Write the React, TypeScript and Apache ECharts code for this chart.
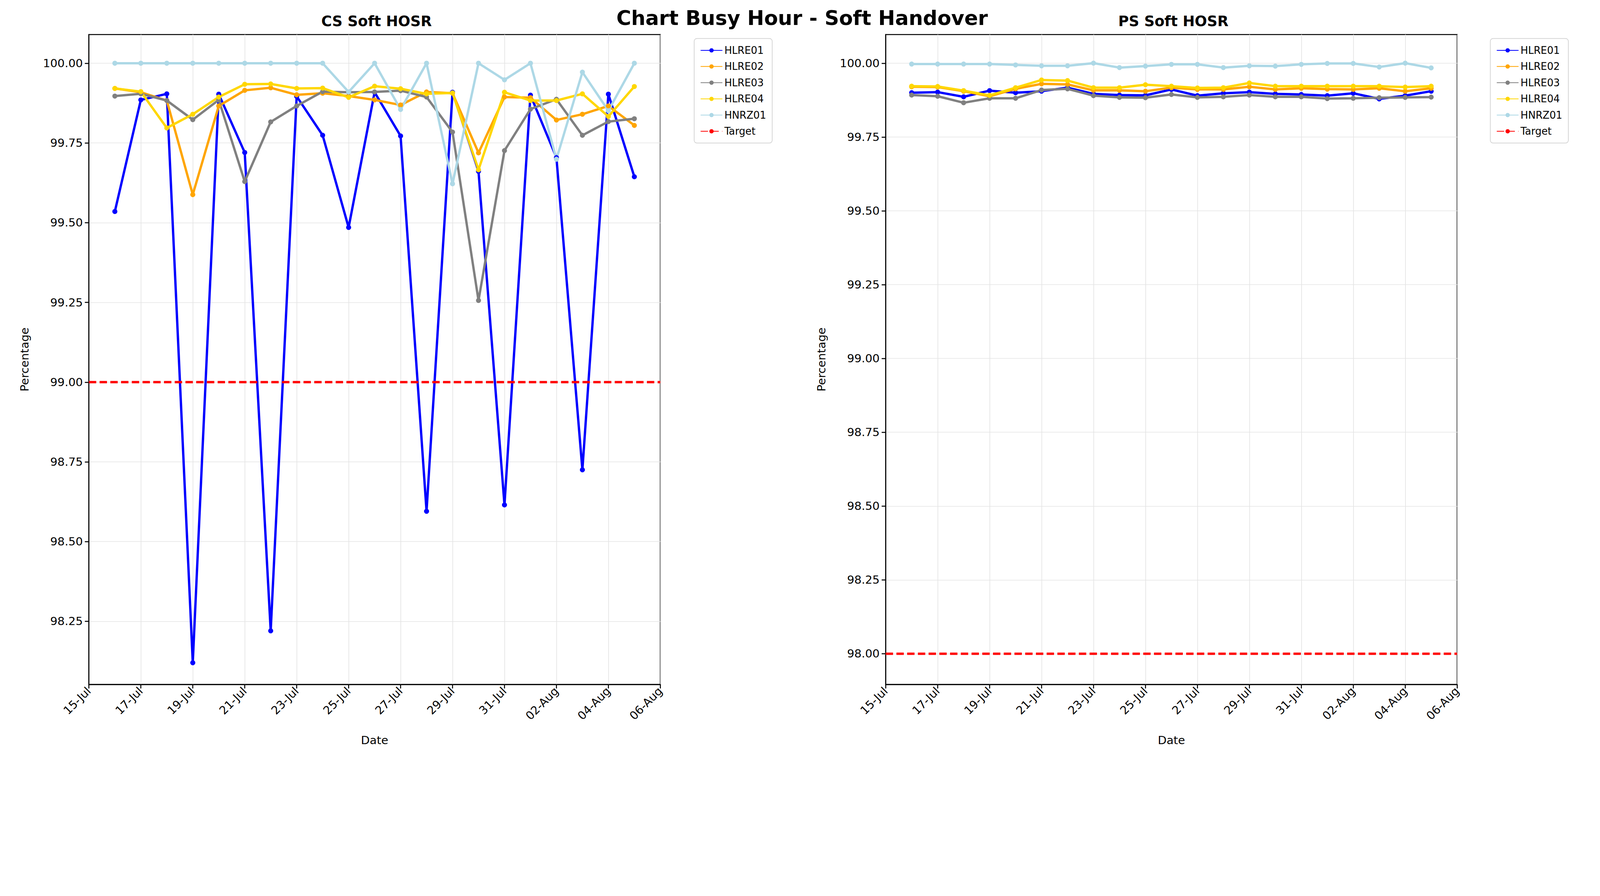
import { useEffect, useRef } from "react";
import * as echarts from "echarts";

// day index: 0 = 15-Jul, data from 16-Jul (1) to 05-Aug (21)
const days = Array.from({ length: 21 }, (_, i) => i + 1);
const names = ["HLRE01", "HLRE02", "HLRE03", "HLRE04", "HNRZ01"];
const colors = ["#0000ff", "#ffa500", "#808080", "#ffd700", "#add8e6"];

const csHLRE01 = [99.535, 99.885, 99.904, 98.12, 99.903, 99.72, 98.22, 99.896, 99.774, 99.485, 99.909, 99.772, 98.595, 99.909, 99.661, 98.615, 99.9, 99.704, 98.725, 99.903, 99.644];
const csHLRE02 = [99.921, 99.909, 99.883, 99.588, 99.866, 99.915, 99.923, 99.901, 99.906, 99.897, 99.885, 99.869, 99.91, 99.906, 99.719, 99.894, 99.892, 99.822, 99.84, 99.866, 99.805];
const csHLRE03 = [99.897, 99.904, 99.883, 99.823, 99.885, 99.629, 99.816, 99.866, 99.911, 99.909, 99.91, 99.914, 99.894, 99.784, 99.256, 99.726, 99.856, 99.887, 99.774, 99.817, 99.826];
const csHLRE04 = [99.921, 99.911, 99.797, 99.84, 99.894, 99.934, 99.935, 99.921, 99.922, 99.893, 99.928, 99.92, 99.904, 99.907, 99.666, 99.909, 99.883, 99.883, 99.904, 99.833, 99.927];
const csHNRZ01 = [100, 100, 100, 100, 100, 100, 100, 100, 100, 99.91, 100, 99.855, 100, 99.622, 100, 99.948, 100, 99.699, 99.972, 99.851, 100];

const psHLRE01 = [99.9, 99.902, 99.886, 99.907, 99.9, 99.905, 99.917, 99.896, 99.892, 99.891, 99.911, 99.89, 99.898, 99.902, 99.896, 99.894, 99.89, 99.898, 99.879, 99.89, 99.905];
const psHLRE02 = [99.92, 99.919, 99.905, 99.888, 99.913, 99.93, 99.928, 99.908, 99.908, 99.905, 99.917, 99.911, 99.911, 99.92, 99.911, 99.915, 99.912, 99.911, 99.915, 99.905, 99.915];
const psHLRE03 = [99.892, 99.888, 99.866, 99.881, 99.881, 99.909, 99.913, 99.89, 99.884, 99.883, 99.894, 99.884, 99.886, 99.892, 99.886, 99.886, 99.88, 99.881, 99.883, 99.884, 99.885];
const psHLRE04 = [99.922, 99.921, 99.907, 99.891, 99.917, 99.943, 99.941, 99.917, 99.917, 99.927, 99.922, 99.916, 99.917, 99.933, 99.922, 99.922, 99.922, 99.922, 99.922, 99.919, 99.922];
const psHNRZ01 = [99.997, 99.997, 99.997, 99.997, 99.994, 99.991, 99.991, 100, 99.985, 99.99, 99.996, 99.996, 99.985, 99.991, 99.99, 99.996, 99.999, 99.999, 99.987, 100, 99.984];

const csTarget = 99.0;
const psTarget = 98.0;
const csTicks = [98.25, 98.5, 98.75, 99.0, 99.25, 99.5, 99.75, 100.0];
const psTicks = [98.0, 98.25, 98.5, 98.75, 99.0, 99.25, 99.5, 99.75, 100.0];

const font = "DejaVu Sans";

function dayLabel(d: number) {
  const day = 15 + d;
  if (day <= 31) return `${String(day).padStart(2, "0")}-Jul`;
  return `${String(day - 31).padStart(2, "0")}-Aug`;
}

export default function App() {
  const ref = useRef<HTMLDivElement>(null);

  useEffect(() => {
    if (!ref.current) return;
    document.body.style.margin = "0";
    const W = window.innerWidth;
    const H = window.innerHeight;
    ref.current.style.width = W + "px";
    ref.current.style.height = H + "px";
    const s = W / 4771; // sizes below are in reference pixels
    const p = (v: number) => v * s;
    const chart = echarts.init(ref.current, null, { renderer: "svg" });

    const mkX = (gridIndex: number) => ({
      type: "value",
      gridIndex,
      min: 0,
      max: 22,
      interval: 2,
      name: "Date",
      nameLocation: "middle",
      nameGap: p(150),
      nameTextStyle: { fontFamily: font, fontSize: p(34), color: "#000" },
      axisLine: { onZero: false, lineStyle: { color: "#000", width: p(3) } },
      axisTick: { length: p(12), lineStyle: { color: "#000", width: p(3) } },
      axisLabel: { rotate: 45, fontFamily: font, fontSize: p(34), color: "#000", margin: p(14), formatter: (v: number) => dayLabel(v) },
      splitLine: { show: true, lineStyle: { color: "#e5e5e5", width: p(2) } },
    });
    const mkY = (gridIndex: number, min: number, max: number, ticks: number[]) => ({
      type: "value",
      gridIndex,
      min,
      max,
      name: "Percentage",
      nameLocation: "middle",
      nameGap: p(175),
      nameTextStyle: { fontFamily: font, fontSize: p(34), color: "#000" },
      axisLine: { show: true, lineStyle: { color: "#000", width: p(3) } },
      axisTick: { length: p(12), customValues: ticks, lineStyle: { color: "#000", width: p(3) } },
      axisLabel: { fontFamily: font, fontSize: p(34), color: "#000", margin: p(18), customValues: ticks, formatter: (v: number) => v.toFixed(2) },
      splitLine: { show: true, lineStyle: { color: "#e5e5e5", width: p(2) } },
    });

    const csData = [csHLRE01, csHLRE02, csHLRE03, csHLRE04, csHNRZ01];
    const psData = [psHLRE01, psHLRE02, psHLRE03, psHLRE04, psHNRZ01];
    const series: any[] = [];
    [csData, psData].forEach((set, g) => {
      set.forEach((vals, i) => {
        series.push({
          name: names[i],
          type: "line",
          xAxisIndex: g,
          yAxisIndex: g,
          data: vals.map((v, k) => [days[k], v]),
          symbol: "circle",
          symbolSize: p(15),
          color: colors[i],
          lineStyle: { width: p(7), color: colors[i] },
          itemStyle: { color: colors[i] },
        });
      });
      const t = g === 0 ? csTarget : psTarget;
      series.push({
        name: "Target",
        type: "line",
        xAxisIndex: g,
        yAxisIndex: g,
        data: [[0, t], [22, t]],
        symbol: "none",
        color: "#ff0000",
        lineStyle: { width: p(7), color: "#ff0000", type: [p(22), p(10)] },
      });
    });

    const mkLegend = (left: number) => ({
      orient: "vertical",
      left: p(left),
      top: p(115),
      data: [...names, "Target"],
      itemWidth: p(65),
      itemHeight: p(16),
      itemGap: p(18),
      padding: [p(20), p(18)],
      borderColor: "#d0d0d0",
      borderWidth: p(2),
      borderRadius: p(8),
      textStyle: { fontFamily: font, fontSize: p(30), color: "#000" },
    });

    chart.setOption({
      animation: false,
      backgroundColor: "#fff",
      title: [
        { text: "Chart Busy Hour - Soft Handover", left: p(2386), top: p(18), textAlign: "center", textStyle: { fontFamily: font, fontSize: p(60), fontWeight: "bold", color: "#000" } },
        { text: "CS Soft HOSR", left: p(1117), top: p(36), textAlign: "center", textStyle: { fontFamily: font, fontSize: p(43), fontWeight: "bold", color: "#000" } },
        { text: "PS Soft HOSR", left: p(3493), top: p(36), textAlign: "center", textStyle: { fontFamily: font, fontSize: p(43), fontWeight: "bold", color: "#000" } },
      ],
      legend: [mkLegend(2070), mkLegend(4444)],
      grid: [
        { left: p(265), top: p(103), width: p(1704), height: p(1939), show: true, borderColor: "#000", borderWidth: p(3) },
        { left: p(2641), top: p(103), width: p(1704), height: p(1939), show: true, borderColor: "#000", borderWidth: p(3) },
      ],
      xAxis: [mkX(0), mkX(1)],
      yAxis: [mkY(0, 98.052, 100.09, csTicks), mkY(1, 97.896, 100.097, psTicks)],
      series,
    });
    return () => chart.dispose();
  }, []);

  return <div ref={ref} style={{ width: 4771, height: 2295 }} />;
}
